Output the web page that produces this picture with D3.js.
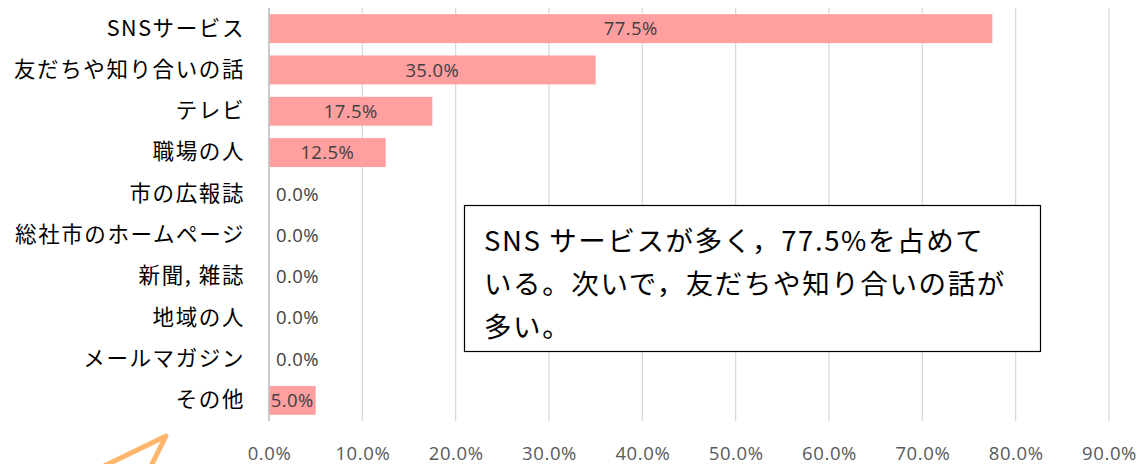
<!DOCTYPE html>
<html><head><meta charset="utf-8">
<script src="https://cdn.jsdelivr.net/npm/d3@7"></script>
<style>
html,body{margin:0;padding:0;background:#fff;}
svg{display:block;}
</style></head>
<body>
<svg id="chart" width="1145" height="464"></svg>
<script>
const categories = ["SNSサービス","友だちや知り合いの話","テレビ","職場の人","市の広報誌","総社市のホームページ","新聞, 雑誌","地域の人","メールマガジン","その他"];
const values = [0.775, 0.35, 0.175, 0.125, 0, 0, 0, 0, 0, 0.05];
const xTicks = [0,0.1,0.2,0.3,0.4,0.5,0.6,0.7,0.8,0.9];
const noteLines = ["SNS サービスが多く，77.5%を占めて","いる。次いで，友だちや知り合いの話が","多い。"];

const svg = d3.select("#chart");
const jp = "'Noto Sans CJK JP','Noto Sans',sans-serif";
const num = "'Open Sans',Roboto,sans-serif";
const x = d3.scaleLinear().domain([0,0.9]).range([269,1109]);
const y = d3.scaleBand().domain(categories).range([8,421]).paddingInner(0.3).paddingOuter(0.15);
const fmt = d3.format(".1%");

// gridlines
svg.append("g").selectAll("line").data(xTicks.slice(1)).join("line")
  .attr("x1",d=>x(d)).attr("x2",d=>x(d)).attr("y1",8).attr("y2",421)
  .attr("stroke","#d9d9d9").attr("stroke-width",1.3);

// bars
svg.append("g").selectAll("rect").data(categories).join("rect")
  .attr("x",x(0)).attr("y",d=>y(d))
  .attr("width",(d,i)=>x(values[i])-x(0)).attr("height",y.bandwidth())
  .attr("fill","#ff9f9f");

// axis line
svg.append("line").attr("x1",x(0)).attr("x2",x(0)).attr("y1",8).attr("y2",421)
  .attr("stroke","#bfbfbf").attr("stroke-width",1.6);

// x axis labels
const xAxis = d3.axisBottom(x).tickValues(xTicks).tickFormat(fmt).tickSize(0).tickPadding(0);
const gx = svg.append("g").attr("transform","translate(0,453)").call(xAxis);
gx.select(".domain").remove();
gx.selectAll("text").attr("font-family",num).attr("font-size",18.5).attr("fill","#595959")
  .attr("letter-spacing",0.6).attr("dy","0.36em");

// y axis labels
const yAxis = d3.axisLeft(y).tickSize(0).tickPadding(24);
const gy = svg.append("g").attr("transform",`translate(${x(0)},0)`).call(yAxis);
gy.select(".domain").remove();
gy.selectAll("text").attr("font-family",jp).attr("font-size",21.5).attr("fill","#000")
  .attr("letter-spacing",1.6);

// data labels
svg.append("g").selectAll("text").data(categories).join("text")
  .attr("x",(d,i)=> values[i] > 0 ? (x(values[i])+x(0))/2 : x(0)+7)
  .attr("y",d=>y(d)+y.bandwidth()/2)
  .attr("dy","0.36em")
  .attr("text-anchor",(d,i)=> values[i] > 0 ? "middle" : "start")
  .attr("font-family",num).attr("font-size",18.5).attr("fill","#404040").attr("letter-spacing",0.4)
  .text((d,i)=>fmt(values[i]));

// note box
const box = svg.append("g");
box.append("rect").attr("x",464.5).attr("y",205.5).attr("width",576).attr("height",146)
  .attr("fill","#fff").attr("stroke","#000").attr("stroke-width",1.2);
box.selectAll("text").data(noteLines).join("text")
  .attr("x",484).attr("y",(d,i)=>251+i*43)
  .attr("font-family",jp).attr("font-size",27.5).attr("fill","#000").attr("letter-spacing",1.6)
  .text(d=>d);

// orange arrow (partially visible)
svg.append("polyline")
  .attr("points","100,468 166,436 150,468")
  .attr("fill","none").attr("stroke","#ffb66c").attr("stroke-width",5)
  .attr("stroke-linejoin","round").attr("stroke-linecap","round");
</script>
</body></html>
